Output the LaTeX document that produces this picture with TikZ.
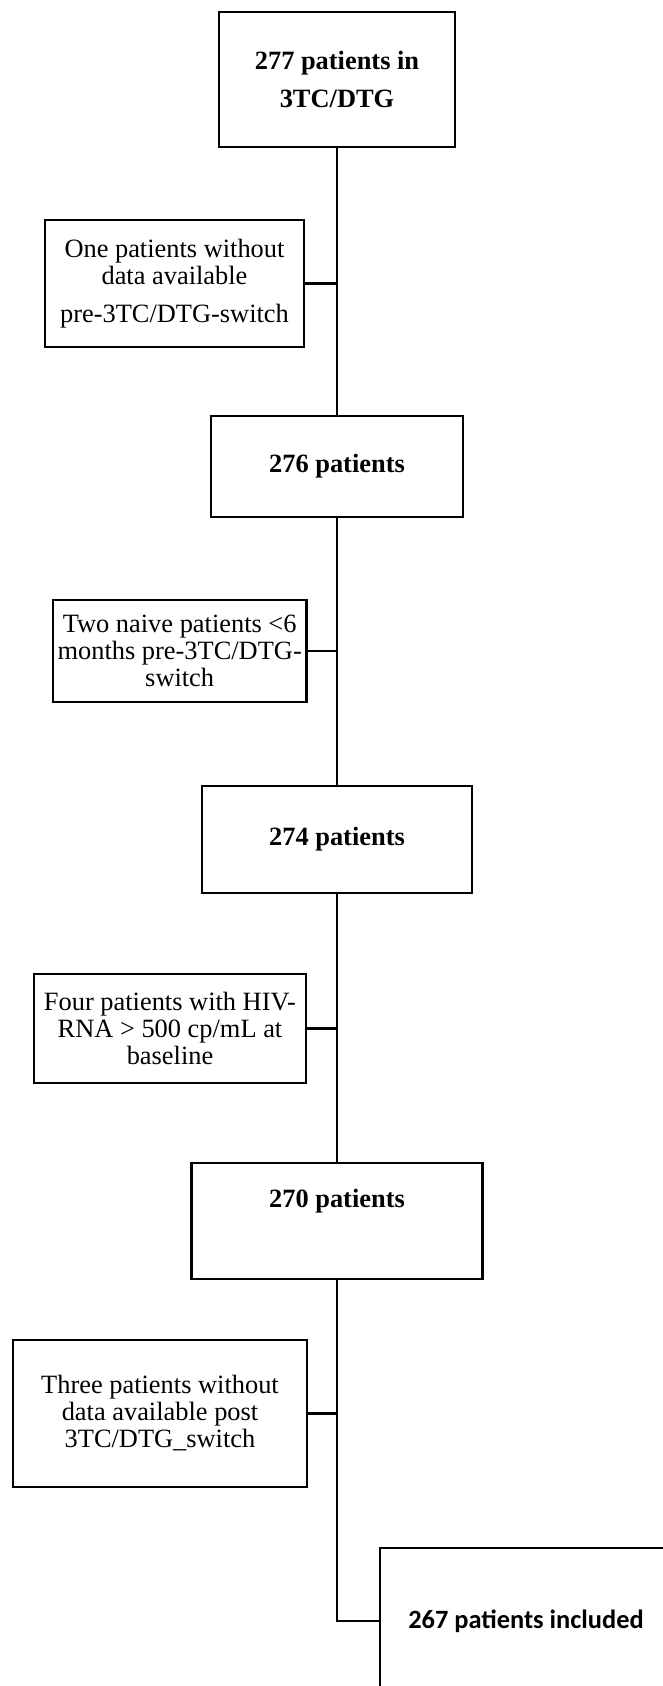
\documentclass[tikz,border=0pt]{standalone}
\usepackage{fontspec}
\setmainfont{Liberation Serif}
\newfontfamily\calibrifont{Carlito}
\usetikzlibrary{calc}

\begin{document}
\begin{tikzpicture}[x=0.75pt,y=-0.75pt,line width=1.7pt,
  mainbox/.style={draw,align=center,inner sep=0pt,font=\bfseries\fontsize{19.8}{20.25}\selectfont},
  exclbox/.style={draw,align=center,inner sep=0pt,font=\fontsize{19.8}{20.25}\selectfont}]
\useasboundingbox (0,0) rectangle (662,1686);

\node[mainbox,minimum width=177pt,minimum height=101.25pt] (n277) at (337,79.5) {277 patients in\\[8.25pt]3TC/DTG};
\node[mainbox,minimum width=189pt,minimum height=75.75pt] (n276) at (337,466.5) {276 patients};
\node[mainbox,minimum width=202.5pt,minimum height=80.25pt] (n274) at (337,839.5) {274 patients};
\node[mainbox,minimum width=218.25pt,minimum height=87pt,text height=13pt,text depth=33pt] (n270) at (337,1221) {270 patients};
\node[mainbox,font=\calibrifont\bfseries\fontsize{19.8}{20.25}\selectfont,minimum width=219pt,minimum height=109.5pt] (n267) at (526,1621) {267 patients included};

\node[exclbox,minimum width=194.25pt,minimum height=95.25pt] (excl1) at (174.5,283.5) {One patients without\\data available\\[8.25pt]pre-3TC/DTG-switch};
\node[exclbox,minimum width=190pt,minimum height=76.5pt] (excl2) at (179.7,651) {Two naive patients <6\\months pre-3TC/DTG-\\switch};
\node[exclbox,minimum width=204.4pt,minimum height=81.75pt] (excl3) at (170,1028.5) {Four patients with HIV-\\RNA > 500 cp/mL at\\baseline};
\node[exclbox,minimum width=220.5pt,minimum height=110.25pt] (excl4) at (160,1413.5) {Three patients without\\data available post\\3TC/DTG\_switch};

\draw (n277) -- (n276);
\draw (n276) -- (n274);
\draw (n274) -- (n270);
\draw (n270.south) |- (n267.west);

\draw (excl1.east) -- (excl1.east -| n277.south);
\draw (excl2.east) -- (excl2.east -| n276.south);
\draw (excl3.east) -- (excl3.east -| n274.south);
\draw (excl4.east) -- (excl4.east -| n270.south);

\end{tikzpicture}
\end{document}
